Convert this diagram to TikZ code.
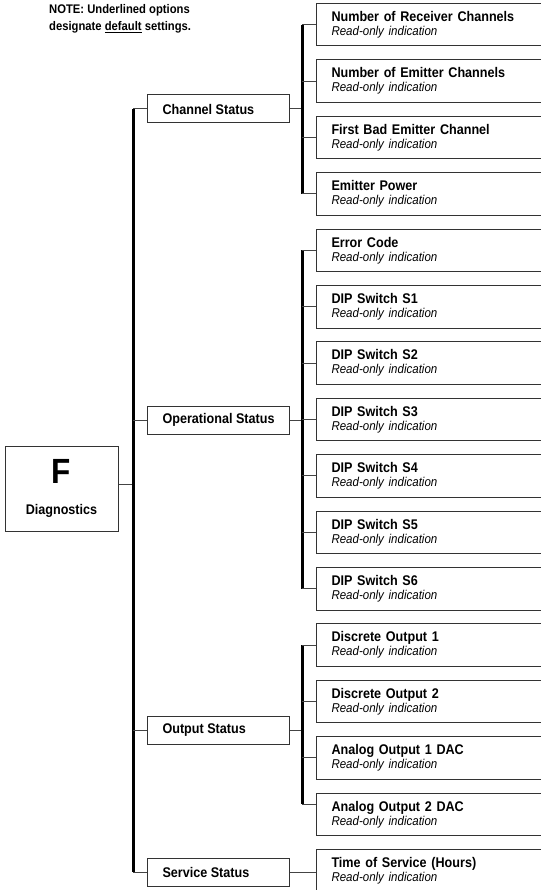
\documentclass[tikz,border=0pt]{standalone}
\usepackage{fontspec}
\setmainfont{Liberation Sans}[FakeStretch=0.9]
\definecolor{boxc}{HTML}{333333}
\definecolor{linec}{HTML}{444444}
\newcommand{\roind}{{\fontsize{12.8}{14}\selectfont\mdseries\itshape Read-only indication}}
\newcommand{\midtxt}[1]{\makebox[112pt][l]{#1}}
\begin{document}
\begin{tikzpicture}[x=1pt,y=-1pt,
  box/.style={draw=boxc, line width=1pt, rectangle, inner ysep=0pt},
  leaf/.style={box, anchor=north west, inner xsep=15pt, text width=200pt, align=left,
    minimum height=42.5pt, font=\fontsize{14}{14}\selectfont\bfseries},
  midbox/.style={box, anchor=west, inner xsep=15pt,
    minimum height=28pt, font=\fontsize{14}{14}\selectfont\bfseries},
  spine/.style={draw=black, line width=3pt},
  branch/.style={draw=linec, line width=1pt}]
\useasboundingbox (0,0) rectangle (540,890);

% note
\node[anchor=north west, inner sep=0pt, align=left, font=\fontsize{12.5}{17}\selectfont\bfseries]
  (note) at (49,4) {NOTE: Underlined options\\designate \underline{default} settings.};

% root
\node[box, minimum width=113pt, minimum height=85pt, align=center, font=\bfseries]
  (diag) at (61.5,488.5) {\fontsize{35}{35}\selectfont F\\[19pt]\fontsize{14}{14}\selectfont Diagnostics};

% middle column
\node[midbox] (cs) at (147,109) {\midtxt{Channel Status}};
\node[midbox] (os) at (147,420) {\midtxt{Operational Status}};
\node[midbox] (outs) at (147,730) {\midtxt{Output Status}};
\node[midbox] (ss) at (147,872) {\midtxt{Service Status}};

% leaves
\foreach \i/\t in {1/Number of Receiver Channels, 2/Number of Emitter Channels,
  3/First Bad Emitter Channel, 4/Emitter Power, 5/Error Code,
  6/DIP Switch S1, 7/DIP Switch S2, 8/DIP Switch S3, 9/DIP Switch S4,
  10/DIP Switch S5, 11/DIP Switch S6, 12/Discrete Output 1, 13/Discrete Output 2,
  14/Analog Output 1 DAC, 15/Analog Output 2 DAC, 16/Time of Service (Hours)}
  \node[leaf] (l\i) at (316,{3+(\i-1)*56.4}) {\t\\\roind};

\coordinate (L) at (133,0);
\coordinate (R) at (302,0);

% left spine
\draw[branch] ([yshift=4pt]diag.east) -- ([yshift=4pt]diag.east -| L);
\draw[spine] (cs.west -| L) -- (ss.west -| L);
\foreach \n in {cs,os,outs,ss} \draw[branch] (\n.west -| L) -- (\n.west);

% channel status
\draw[branch] (cs.east) -- (cs.east -| R);
\draw[spine] (l1.west -| R) -- (l4.west -| R);
\foreach \i in {1,...,4} \draw[branch] (l\i.west -| R) -- (l\i.west);

% operational status
\draw[branch] (os.east) -- (os.east -| R);
\draw[spine] (l5.west -| R) -- (l11.west -| R);
\foreach \i in {5,...,11} \draw[branch] (l\i.west -| R) -- (l\i.west);

% output status
\draw[branch] (outs.east) -- (outs.east -| R);
\draw[spine] (l12.west -| R) -- ([yshift=10pt]l15.west -| R);
\foreach \i in {12,13,14} \draw[branch] (l\i.west -| R) -- (l\i.west);
\draw[branch] ([yshift=10pt]l15.west -| R) -- ([yshift=10pt]l15.west);

% service status
\draw[branch] (ss.east) -- (ss.east -| l16.west);
\end{tikzpicture}
\end{document}
